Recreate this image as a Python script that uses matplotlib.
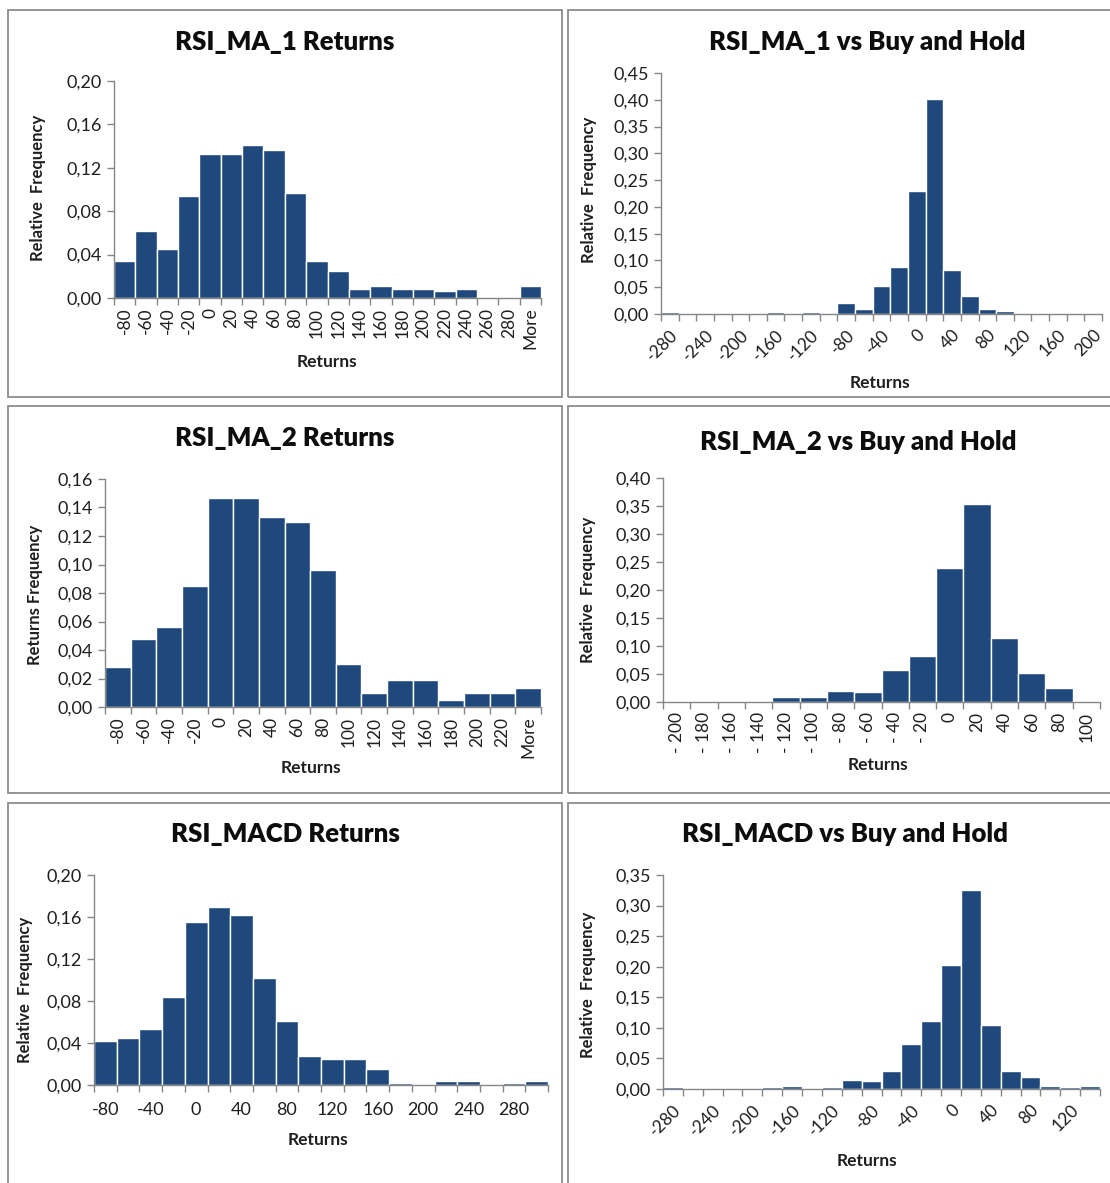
import matplotlib
matplotlib.use("Agg")
import matplotlib.pyplot as plt
import numpy as np
from matplotlib.patches import Rectangle
from matplotlib.ticker import FuncFormatter

plt.rcParams['font.family'] = ['Lato', 'DejaVu Sans']

# ---------------- data ----------------
titles = ["RSI_MA_1 Returns", "RSI_MA_1 vs Buy and Hold",
          "RSI_MA_2 Returns", "RSI_MA_2 vs Buy and Hold",
          "RSI_MACD Returns", "RSI_MACD vs Buy and Hold"]
ylabels = ["Relative  Frequency", "Relative  Frequency", "Returns Frequency",
           "Relative  Frequency", "Relative  Frequency", "Relative  Frequency"]
xlabel = "Returns"

p1_cats = ['-80', '-60', '-40', '-20', '0', '20', '40', '60', '80', '100', '120', '140',
           '160', '180', '200', '220', '240', '260', '280', 'More']
p1_vals = [0.034, 0.062, 0.045, 0.094, 0.133, 0.133, 0.141, 0.136, 0.097, 0.034, 0.025,
           0.008, 0.011, 0.008, 0.008, 0.006, 0.008, 0.0, 0.0, 0.011]

p2_cats = ['-280', '-260', '-240', '-220', '-200', '-180', '-160', '-140', '-120', '-100',
           '-80', '-60', '-40', '-20', '0', '20', '40', '60', '80', '100', '120', '140',
           '160', '180', '200']
p2_vals = [0.004, 0.0, 0.0, 0.0, 0.0, 0.0, 0.004, 0.0, 0.004, 0.0, 0.020, 0.009, 0.053,
           0.088, 0.230, 0.402, 0.083, 0.034, 0.009, 0.006, 0.0, 0.0, 0.0, 0.0, 0.0]

p3_cats = ['-80', '-60', '-40', '-20', '0', '20', '40', '60', '80', '100', '120', '140',
           '160', '180', '200', '220', 'More']
p3_vals = [0.028, 0.048, 0.056, 0.085, 0.147, 0.147, 0.133, 0.130, 0.096, 0.030, 0.010,
           0.019, 0.019, 0.005, 0.010, 0.010, 0.013]

p4_cats = ['- 200', '- 180', '- 160', '- 140', '- 120', '- 100', '- 80', '- 60', '- 40',
           '- 20', '0', '20', '40', '60', '80', '100']
p4_vals = [0.0, 0.0, 0.0, 0.0, 0.0095, 0.0095, 0.0196, 0.0172, 0.0564, 0.0825, 0.2386,
           0.3543, 0.114, 0.051, 0.025, 0.0]

p5_cats = ['-80', '-60', '-40', '-20', '0', '20', '40', '60', '80', '100', '120', '140',
           '160', '180', '200', '220', '240', '260', '280', 'More']
p5_vals = [0.042, 0.0446, 0.053, 0.084, 0.155, 0.170, 0.162, 0.102, 0.061, 0.028, 0.025,
           0.025, 0.0155, 0.0016, 0.0, 0.0041, 0.0041, 0.0, 0.0016, 0.0041]

p6_cats = ['-280', '-260', '-240', '-220', '-200', '-180', '-160', '-140', '-120', '-100',
           '-80', '-60', '-40', '-20', '0', '20', '40', '60', '80', '100', '120', '140']
p6_vals = [0.0027, 0.0, 0.0, 0.0, 0.0, 0.0027, 0.0055, 0.0, 0.0027, 0.0153, 0.0126,
           0.0295, 0.0733, 0.1115, 0.2034, 0.326, 0.1044, 0.0295, 0.0197, 0.0055, 0.0027,
           0.0055]

y_max = [0.20, 0.45, 0.16, 0.40, 0.20, 0.35]
y_step = [0.04, 0.05, 0.02, 0.05, 0.04, 0.05]

cats_all = [p1_cats, p2_cats, p3_cats, p4_cats, p5_cats, p6_cats]
vals_all = [p1_vals, p2_vals, p3_vals, p4_vals, p5_vals, p6_vals]

# ---------------- layout (pixels) ----------------
W, H = 1110, 1183
fig = plt.figure(figsize=(W / 100, H / 100), dpi=100)
fig.patch.set_facecolor('white')

def fx(x):
    return x / W

def fy(y):
    return 1 - y / H

# panel borders: (x0, y0, x1, y1)
borders = [(8, 10, 562, 397), (568, 10, 1115, 397),
           (8, 406, 562, 793), (568, 406, 1115, 793),
           (8, 803, 562, 1195), (568, 803, 1115, 1195)]
for (x0, y0, x1, y1) in borders:
    fig.patches.append(Rectangle((fx(x0), fy(y1)), fx(x1 - x0), (y1 - y0) / H,
                                 transform=fig.transFigure, fill=False,
                                 edgecolor='#8c8c8c', linewidth=1.3))

# axes rect: left, right, top(ymax), bottom(0)
axes_px = [(114, 541, 81, 298), (661, 1102, 73, 314),
           (105, 541, 479, 707), (663, 1100, 478, 702),
           (94, 548, 875, 1085), (663, 1100, 875, 1089)]
title_px = [(285, 42), (867, 42), (285, 438), (858, 442), (285, 834), (845, 834)]
xlabel_px = [(327, 362), (880, 383), (311, 768), (878, 765), (318, 1140), (867, 1161)]
ylabel_px = [(38, 188), (589, 190), (35, 595), (588, 590), (25, 990), (588, 985)]
label_mode = ['v', 'd', 'v', 'v', 'h', 'd']
label_every = [1, 2, 1, 1, 2, 2]

bar_color = '#1F497D'
axis_color = '#868686'
text_color = '#1f1f1f'

fmt = FuncFormatter(lambda v, p: f"{v:.2f}".replace('.', ','))

for i in range(6):
    l, r, t, b = axes_px[i]
    ax = fig.add_axes([fx(l), fy(b), fx(r - l), (b - t) / H])
    cats = cats_all[i]
    vals = vals_all[i]
    n = len(cats)
    x = np.arange(n)
    ax.bar(x, vals, width=1.0, color=bar_color, edgecolor='white', linewidth=1.0,
           zorder=2)
    ax.set_xlim(-0.5, n - 0.5)
    ax.set_ylim(0, y_max[i])
    ax.set_yticks(np.arange(0, y_max[i] + 1e-9, y_step[i]))
    ax.yaxis.set_major_formatter(fmt)
    for s in ['top', 'right']:
        ax.spines[s].set_visible(False)
    for s in ['left', 'bottom']:
        ax.spines[s].set_color(axis_color)
        ax.spines[s].set_linewidth(1.0)
        ax.spines[s].set_zorder(3)
    ax.tick_params(axis='y', direction='out', length=5, width=1.0, color=axis_color,
                   labelsize=13, labelcolor=text_color, pad=4)
    # category boundary ticks
    ax.set_xticks(np.arange(n + 1) - 0.5, minor=True)
    ax.tick_params(axis='x', which='minor', direction='out', length=5, width=1.0,
                   color=axis_color)
    step = label_every[i]
    ax.set_xticks(x[::step])
    labs = cats[::step]
    if label_mode[i] == 'v':
        ax.set_xticklabels(labs, rotation=90, ha='center', va='top')
        ax.tick_params(axis='x', which='major', length=0, pad=7, labelsize=12.5,
                       labelcolor=text_color)
    elif label_mode[i] == 'd':
        ax.set_xticklabels(labs, rotation=45, ha='right', va='top',
                           rotation_mode='anchor')
        ax.tick_params(axis='x', which='major', length=0, pad=9, labelsize=12.5,
                       labelcolor=text_color)
    else:
        ax.set_xticklabels(labs)
        ax.tick_params(axis='x', which='major', length=0, pad=12, labelsize=13,
                       labelcolor=text_color)
    ax.set_facecolor('none')

    tx, ty = title_px[i]
    fig.text(fx(tx), fy(ty), titles[i], ha='center', va='center', fontsize=18.5,
             fontweight='heavy', color='#0d0d0d')
    xx, xy = xlabel_px[i]
    fig.text(fx(xx), fy(xy), xlabel, ha='center', va='center', fontsize=12.5,
             fontweight='bold', color=text_color)
    yx, yy = ylabel_px[i]
    fig.text(fx(yx), fy(yy), ylabels[i], ha='center', va='center', fontsize=12,
             fontweight='bold', color=text_color, rotation=90)

fig.savefig("out.png", dpi=100, facecolor='white')
